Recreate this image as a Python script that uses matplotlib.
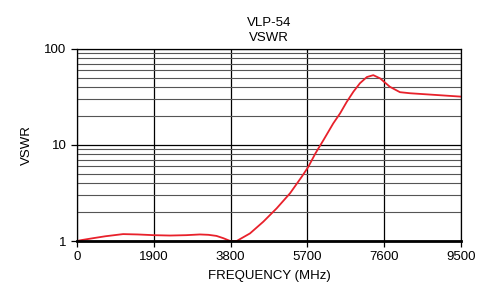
import numpy as np
import matplotlib.pyplot as plt
from matplotlib.ticker import FixedLocator, LogLocator, NullFormatter

plt.rcParams['font.family'] = ['Liberation Sans', 'DejaVu Sans']

# --- data ---
freq_mhz = [0, 100, 400, 700, 1140, 1500, 1900, 2300, 2700, 3040, 3250,
            3450, 3620, 3790, 3950, 4280, 4610, 4940, 5270, 5560, 5720,
            5900, 6100, 6340, 6510, 6670, 6840, 7000, 7170, 7330, 7500,
            7740, 7990, 8240, 8650, 9500]
vswr = [1.0, 1.02, 1.07, 1.12, 1.18, 1.17, 1.15, 1.14, 1.15, 1.17, 1.16,
        1.13, 1.07, 1.0, 1.0, 1.2, 1.59, 2.19, 3.14, 4.67, 5.9,
        8.2, 11.3, 16.8, 21.4, 28.0, 36.0, 44.0, 51.0, 53.4, 49.4,
        40.4, 35.5, 34.6, 33.7, 31.9]
x_ticks = [0, 1900, 3800, 5700, 7600, 9500]

fig = plt.figure(figsize=(4.8, 2.97), dpi=100)
ax = fig.add_axes([77/480, 1 - 241/297, 384/480, 192/297])

ax.plot(freq_mhz, vswr, color='#e8212b', lw=1.3)

ax.set_yscale('log')
ax.set_xlim(0, 9500)
ax.set_ylim(1, 100)
ax.xaxis.set_major_locator(FixedLocator(x_ticks))
ax.set_yticks([1, 10, 100])
ax.set_yticklabels(['1', '10', '100'])
ax.yaxis.set_minor_locator(LogLocator(base=10, subs=np.arange(2, 10)))
ax.yaxis.set_minor_formatter(NullFormatter())

ax.grid(True, which='major', color='black', lw=0.9)
ax.grid(True, which='minor', axis='y', color='#555555', lw=0.8)
ax.tick_params(which='major', direction='out', length=4, width=0.9,
               labelsize=9.5, colors='black')
ax.tick_params(which='minor', length=0)
for s in ax.spines.values():
    s.set_color('black')
    s.set_linewidth(0.9)
ax.spines['bottom'].set_linewidth(2)

ax.set_title('VLP-54\nVSWR', fontsize=9.5, pad=6, linespacing=1.3)
ax.set_xlabel('FREQUENCY (MHz)', fontsize=9.5, labelpad=5)
ax.set_ylabel('VSWR', fontsize=9.5, labelpad=8)

fig.savefig('out.png', dpi=100)
